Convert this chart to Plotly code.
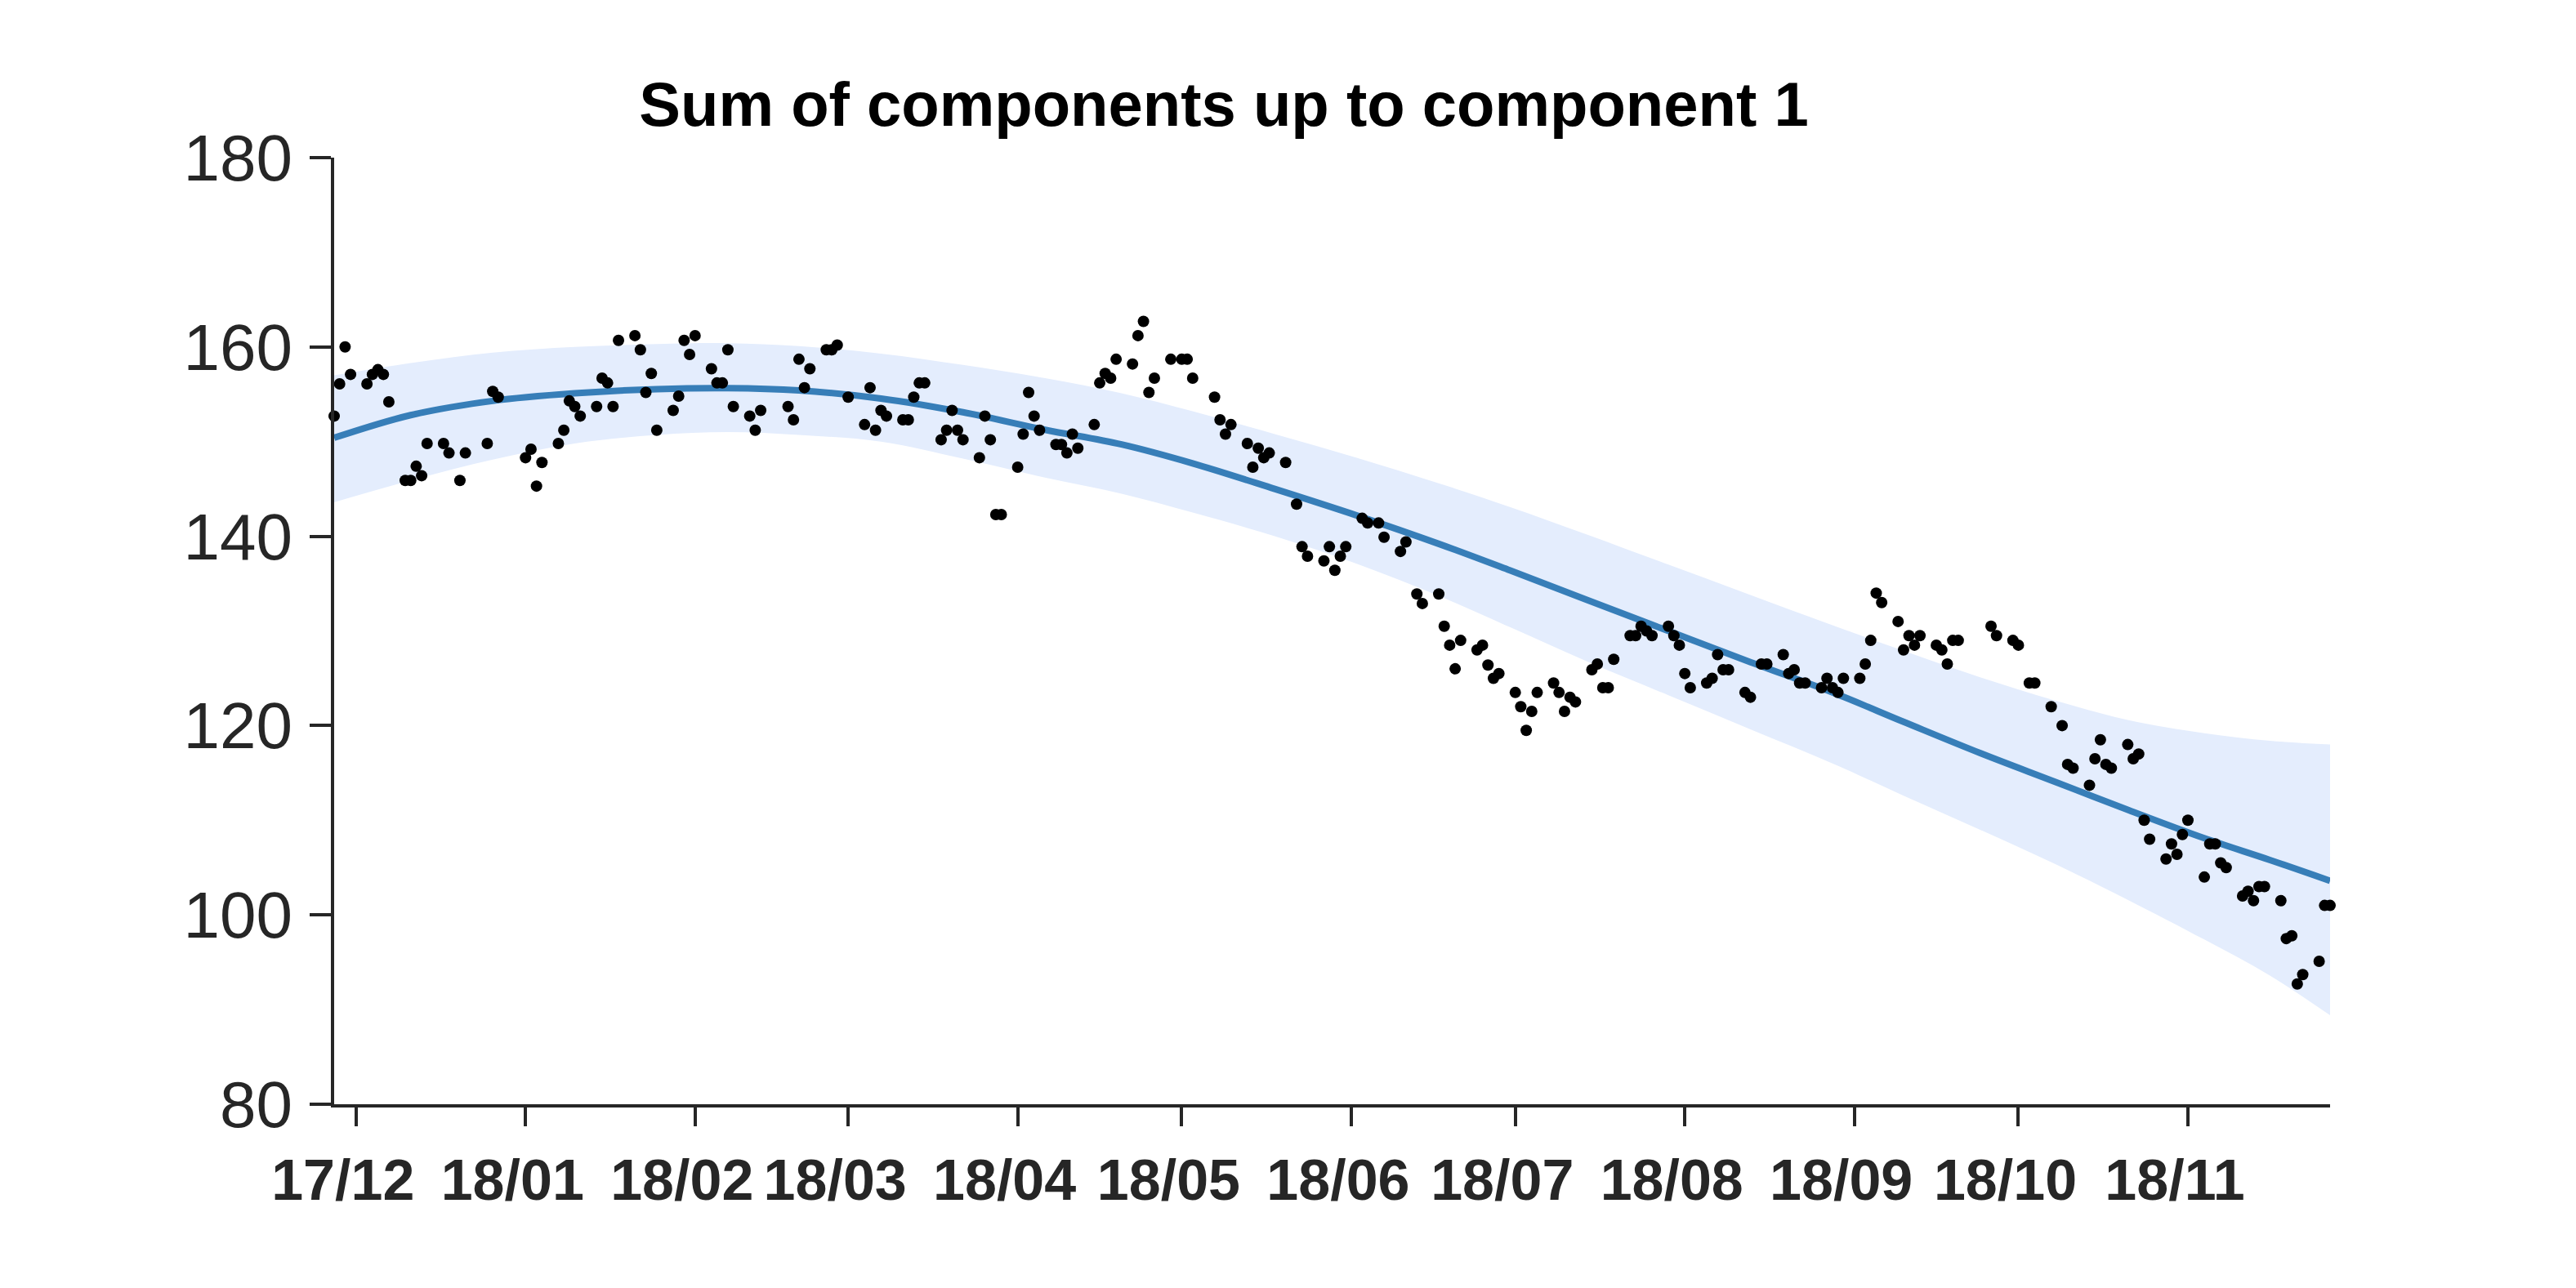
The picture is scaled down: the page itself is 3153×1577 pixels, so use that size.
import plotly.graph_objects as go

# observed points (trading days, Sun-Thu)
point_dates = [
    "2017-11-27", "2017-11-28", "2017-11-29", "2017-11-30",
    "2017-12-03", "2017-12-04", "2017-12-05", "2017-12-06", "2017-12-07",
    "2017-12-10", "2017-12-11", "2017-12-12", "2017-12-13", "2017-12-14",
    "2017-12-17", "2017-12-18", "2017-12-20", "2017-12-21",
    "2017-12-25", "2017-12-26", "2017-12-27",
    "2018-01-01", "2018-01-02", "2018-01-03", "2018-01-04",
    "2018-01-07", "2018-01-08", "2018-01-09", "2018-01-10", "2018-01-11",
    "2018-01-14", "2018-01-15", "2018-01-16", "2018-01-17", "2018-01-18",
    "2018-01-21", "2018-01-22", "2018-01-23", "2018-01-24", "2018-01-25",
    "2018-01-28", "2018-01-29", "2018-01-30", "2018-01-31", "2018-02-01",
    "2018-02-04", "2018-02-05", "2018-02-06", "2018-02-07", "2018-02-08",
    "2018-02-11", "2018-02-12", "2018-02-13",
    "2018-02-18", "2018-02-19", "2018-02-20", "2018-02-21", "2018-02-22",
    "2018-02-25", "2018-02-26", "2018-02-27", "2018-03-01",
    "2018-03-04", "2018-03-05", "2018-03-06", "2018-03-07", "2018-03-08",
    "2018-03-11", "2018-03-12", "2018-03-13", "2018-03-14", "2018-03-15",
    "2018-03-18", "2018-03-19", "2018-03-20", "2018-03-21", "2018-03-22",
    "2018-03-25", "2018-03-26", "2018-03-27", "2018-03-28", "2018-03-29",
    "2018-04-01", "2018-04-02", "2018-04-03", "2018-04-04", "2018-04-05",
    "2018-04-08", "2018-04-09", "2018-04-10", "2018-04-11", "2018-04-12",
    "2018-04-15", "2018-04-16", "2018-04-17", "2018-04-18", "2018-04-19",
    "2018-04-22", "2018-04-23", "2018-04-24", "2018-04-25", "2018-04-26",
    "2018-04-29", "2018-05-01", "2018-05-02", "2018-05-03",
    "2018-05-07", "2018-05-08", "2018-05-09", "2018-05-10",
    "2018-05-13", "2018-05-14", "2018-05-15", "2018-05-16", "2018-05-17",
    "2018-05-20", "2018-05-22", "2018-05-23", "2018-05-24",
    "2018-05-27", "2018-05-28", "2018-05-29", "2018-05-30", "2018-05-31",
    "2018-06-03", "2018-06-04", "2018-06-06", "2018-06-07",
    "2018-06-10", "2018-06-11", "2018-06-13", "2018-06-14",
    "2018-06-17", "2018-06-18", "2018-06-19", "2018-06-20", "2018-06-21",
    "2018-06-24", "2018-06-25", "2018-06-26", "2018-06-27", "2018-06-28",
    "2018-07-01", "2018-07-02", "2018-07-03", "2018-07-04", "2018-07-05",
    "2018-07-08", "2018-07-09", "2018-07-10", "2018-07-11", "2018-07-12",
    "2018-07-15", "2018-07-16", "2018-07-17", "2018-07-18", "2018-07-19",
    "2018-07-22", "2018-07-23", "2018-07-24", "2018-07-25", "2018-07-26",
    "2018-07-29", "2018-07-30", "2018-07-31", "2018-08-01", "2018-08-02",
    "2018-08-05", "2018-08-06", "2018-08-07", "2018-08-08", "2018-08-09",
    "2018-08-12", "2018-08-13", "2018-08-15", "2018-08-16",
    "2018-08-19", "2018-08-20", "2018-08-21", "2018-08-22", "2018-08-23",
    "2018-08-26", "2018-08-27", "2018-08-28", "2018-08-29", "2018-08-30",
    "2018-09-02", "2018-09-03", "2018-09-04", "2018-09-05", "2018-09-06",
    "2018-09-09", "2018-09-10", "2018-09-11", "2018-09-12", "2018-09-13",
    "2018-09-16", "2018-09-17", "2018-09-18", "2018-09-19", "2018-09-20",
    "2018-09-26", "2018-09-27", "2018-09-30", "2018-10-01",
    "2018-10-03", "2018-10-04", "2018-10-07", "2018-10-09", "2018-10-10",
    "2018-10-11", "2018-10-14", "2018-10-15", "2018-10-16", "2018-10-17",
    "2018-10-18", "2018-10-21", "2018-10-22", "2018-10-23", "2018-10-24",
    "2018-10-25", "2018-10-28", "2018-10-29", "2018-10-30", "2018-10-31",
    "2018-11-01", "2018-11-04", "2018-11-05", "2018-11-06", "2018-11-07",
    "2018-11-08", "2018-11-11", "2018-11-12", "2018-11-13", "2018-11-14",
    "2018-11-15", "2018-11-18", "2018-11-19", "2018-11-20", "2018-11-21",
    "2018-11-22", "2018-11-25", "2018-11-26", "2018-11-27",
]
point_values = [
    152.7, 156.1, 160.0, 157.1,
    156.1, 157.1, 157.6, 157.1, 154.2,
    145.9, 145.9, 147.4, 146.4, 149.8,
    149.8, 148.8, 145.9, 148.8,
    149.8, 155.3, 154.7,
    148.3, 149.2, 145.3, 147.8,
    149.8, 151.2, 154.3, 153.7, 152.7,
    153.7, 156.7, 156.2, 153.7, 160.7,
    161.2, 159.7, 155.2, 157.2, 151.2,
    153.3, 154.8, 160.7, 159.2, 161.2,
    157.7, 156.2, 156.2, 159.7, 153.7,
    152.7, 151.2, 153.3,
    153.7, 152.3, 158.7, 155.7, 157.7,
    159.7, 159.7, 160.2, 154.7,
    151.8, 155.7, 151.2, 153.3, 152.7,
    152.3, 152.3, 154.7, 156.2, 156.2,
    150.2, 151.2, 153.3, 151.2, 150.2,
    148.3, 152.7, 150.2, 142.3, 142.3,
    147.3, 150.8, 155.2, 152.7, 151.2,
    149.7, 149.7, 148.8, 150.8, 149.3,
    151.8, 156.2, 157.2, 156.7, 158.7,
    158.2, 161.2, 162.7, 155.2, 156.7,
    158.7, 158.7, 158.7, 156.7,
    154.7, 152.3, 150.8, 151.8,
    149.8, 147.3, 149.3, 148.3, 148.8,
    147.8, 143.4, 138.9, 137.9,
    137.4, 138.9, 136.4, 137.9, 138.9,
    141.9, 141.4, 141.4, 139.9,
    138.4, 139.4, 133.9, 132.9,
    133.9, 130.5, 128.5, 126.0, 129.0,
    128.0, 128.5, 126.4, 125.0, 125.5,
    123.5, 122.0, 119.5, 121.5, 123.5,
    124.5, 123.5, 121.5, 123.0, 122.5,
    125.9, 126.5, 124.0, 124.0, 127.0,
    129.5, 129.5, 130.5, 130.0, 129.5,
    130.5, 129.5, 128.5, 125.5, 124.0,
    124.5, 125.0, 127.5, 125.9, 125.9,
    123.5, 123.0, 126.5, 126.5,
    127.5, 125.5, 125.9, 124.5, 124.5,
    124.0, 125.0, 124.0, 123.5, 125.0,
    125.0, 126.5, 129.0, 134.0, 133.0,
    131.0, 128.0, 129.5, 128.5, 129.5,
    128.5, 128.0, 126.5, 129.0, 129.0,
    130.5, 129.5, 129.0, 128.5,
    124.5, 124.5, 122.0, 120.0, 115.9,
    115.5, 113.7, 116.5, 118.5, 115.9,
    115.5, 118.0, 116.5, 117.0, 110.0,
    108.0, 105.9, 107.5, 106.4, 108.5,
    110.0, 104.0, 107.5, 107.5, 105.5,
    105.0, 102.0, 102.5, 101.5, 103.0,
    103.0, 101.5, 97.5, 97.8, 92.7,
    93.7, 95.1, 101.0, 101.0,
]

# fitted component and its interval, read at sample dates
fit_dates = [
    "2017-11-27", "2017-12-11", "2017-12-26", "2018-01-10", "2018-01-25",
    "2018-02-07", "2018-02-20", "2018-03-07", "2018-03-22", "2018-04-06",
    "2018-04-20", "2018-05-03", "2018-05-18", "2018-06-02", "2018-06-17",
    "2018-06-30", "2018-07-14", "2018-07-29", "2018-08-13", "2018-08-28",
    "2018-09-10", "2018-09-24", "2018-10-08", "2018-10-21", "2018-11-04",
    "2018-11-16", "2018-11-27",
]
fit_mean = [
    150.4, 152.8, 154.3, 155.1, 155.55, 155.65, 155.4, 154.55, 153.1, 151.25,
    149.7, 147.7, 145.0, 142.2, 139.2, 136.4, 133.3, 130.0, 126.7, 123.5,
    120.4, 117.1, 114.0, 111.1, 108.1, 105.8, 103.6,
]
fit_upper = [
    157.0, 158.3, 159.4, 160.0, 160.3, 160.4, 160.1, 159.3, 158.1, 156.7,
    155.1, 153.2, 150.8, 148.3, 145.6, 143.1, 140.2, 137.0, 133.8, 130.6,
    127.9, 125.1, 122.6, 120.6, 119.2, 118.4, 118.0,
]
fit_lower = [
    143.6, 145.9, 148.1, 149.8, 150.7, 151.0, 150.7, 150.0, 148.2, 146.2,
    144.5, 142.5, 140.0, 137.1, 133.7, 130.4, 126.8, 123.2, 119.6, 116.0,
    112.6, 109.0, 105.3, 101.6, 97.4, 93.6, 89.4,
]

axis_color = "#262626"
W, H = 3153, 1577
body_pad = 8  # default page margin of the html body

fig = go.Figure()

# confidence band
fig.add_trace(go.Scatter(
    x=fit_dates, y=fit_lower, mode="lines",
    line=dict(width=0, shape="spline", color="rgba(0,0,0,0)"),
    showlegend=False, hoverinfo="skip",
))
fig.add_trace(go.Scatter(
    x=fit_dates, y=fit_upper, mode="lines",
    line=dict(width=0, shape="spline", color="rgba(0,0,0,0)"),
    fill="tonexty", fillcolor="#e4edfd",
    showlegend=False, hoverinfo="skip",
))

# mean curve
fig.add_trace(go.Scatter(
    x=fit_dates, y=fit_mean, mode="lines",
    line=dict(width=8, shape="spline", color="#377eb8"),
    showlegend=False,
))

# data points
fig.add_trace(go.Scatter(
    x=point_dates, y=point_values, mode="markers",
    marker=dict(size=14, color="black"),
    cliponaxis=False, showlegend=False,
))

fig.update_layout(
    width=W, height=H,
    margin=dict(l=409 - body_pad, r=301 + body_pad, t=193 - body_pad, b=225 + body_pad),
    paper_bgcolor="white", plot_bgcolor="white",
    font=dict(family="Liberation Sans, Arial, sans-serif", color=axis_color),
    title=dict(
        text="Sum of components up to component 1",
        x=(1498 - body_pad) / W, xref="container", xanchor="center",
        y=1 - (127 - body_pad) / H, yref="container", yanchor="middle",
        font=dict(size=76, color="black", weight="bold"),
    ),
    xaxis=dict(
        type="date",
        range=["2017-11-27", "2018-11-27"],
        tick0="2017-12-01", dtick="M1", tickformat="%y/%m",
        ticks="outside", ticklen=23, tickwidth=4, tickcolor=axis_color,
        showline=True, linewidth=4, linecolor=axis_color,
        showgrid=False, zeroline=False,
        tickfont=dict(size=70, weight="bold", color=axis_color),
        ticklabelstandoff=6, ticklabelshift=-16,
    ),
    yaxis=dict(
        range=[80, 180], tick0=80, dtick=20,
        ticks="outside", ticklen=26, tickwidth=4, tickcolor=axis_color,
        showline=True, linewidth=4, linecolor=axis_color,
        showgrid=False, zeroline=False,
        tickfont=dict(size=80, color=axis_color),
        ticklabelstandoff=5,
    ),
)

fig.write_html("out.html")
